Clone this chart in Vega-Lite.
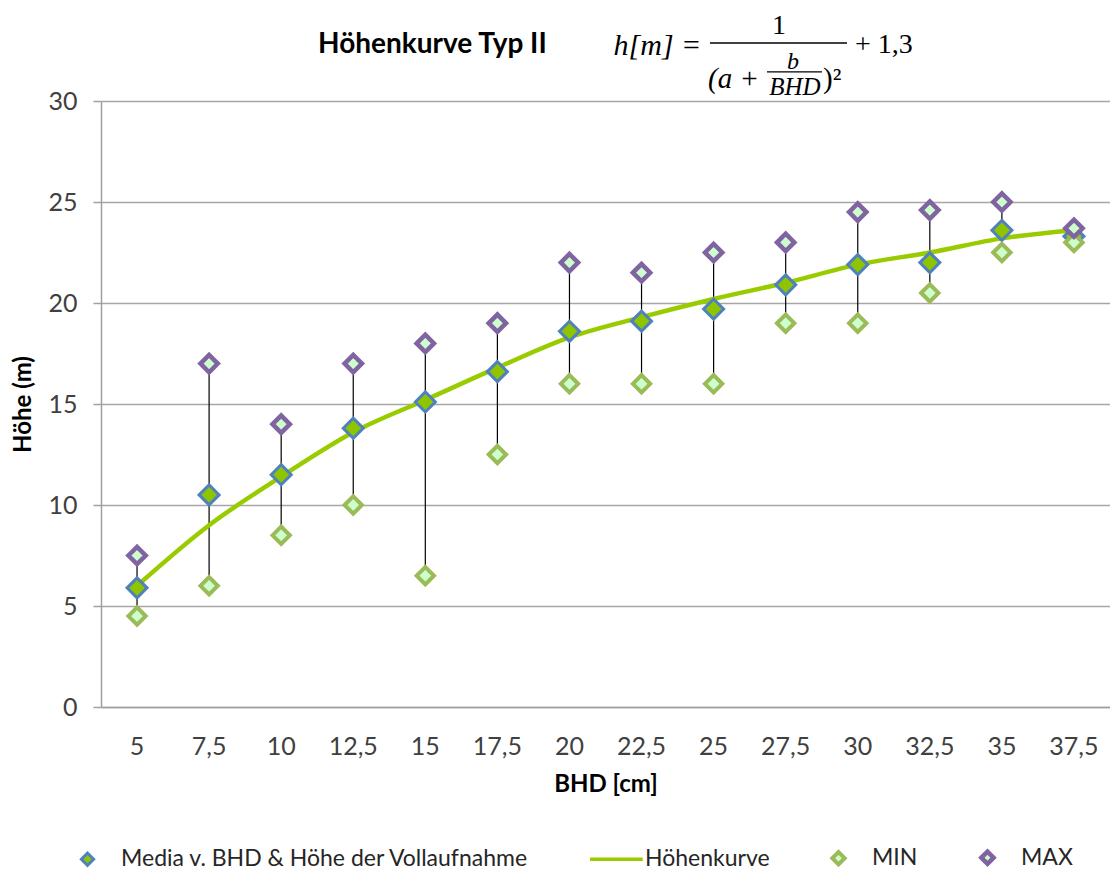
{
  "$schema": "https://vega.github.io/schema/vega-lite/v6.json",
  "autosize": {"type": "none"},
  "padding": {"left": 101, "top": 101, "right": 0, "bottom": 166},
  "width": 1009,
  "height": 606,
  "background": "white",
  "config": {
    "view": {"stroke": null},
    "font": "Lato",
    "axis": {
      "labelFont": "Lato",
      "labelFontSize": 25,
      "labelColor": "#404040",
      "titleFont": "Lato",
      "titleFontSize": 24,
      "titleFontWeight": "bold",
      "titleColor": "#000000",
      "domainColor": "#a0a0a0",
      "domainWidth": 1.5,
      "tickColor": "#a0a0a0",
      "tickWidth": 1.5,
      "gridColor": "#a6a6a6",
      "gridWidth": 1.5
    },
    "legend": {
      "labelFont": "Lato",
      "labelFontSize": 23,
      "labelColor": "#262626",
      "padding": 0
    }
  },
  "title": {
    "text": "Höhenkurve Typ II",
    "font": "Lato",
    "fontSize": 28,
    "fontWeight": "bold",
    "color": "#000000",
    "anchor": "start",
    "frame": "group",
    "dx": 217,
    "offset": 0,
    "dy": 47
  },
  "datasets": {
    "bhd": [
      {"bhd": "5", "median": 5.9, "min": 4.5, "max": 7.5, "kurve": 6.0},
      {"bhd": "7,5", "median": 10.5, "min": 6.0, "max": 17.0, "kurve": 9.0},
      {"bhd": "10", "median": 11.5, "min": 8.5, "max": 14.0, "kurve": 11.4},
      {"bhd": "12,5", "median": 13.8, "min": 10.0, "max": 17.0, "kurve": 13.6},
      {"bhd": "15", "median": 15.1, "min": 6.5, "max": 18.0, "kurve": 15.2},
      {"bhd": "17,5", "median": 16.6, "min": 12.5, "max": 19.0, "kurve": 16.8},
      {"bhd": "20", "median": 18.6, "min": 16.0, "max": 22.0, "kurve": 18.3},
      {"bhd": "22,5", "median": 19.1, "min": 16.0, "max": 21.5, "kurve": 19.3},
      {"bhd": "25", "median": 19.7, "min": 16.0, "max": 22.5, "kurve": 20.2},
      {"bhd": "27,5", "median": 20.9, "min": 19.0, "max": 23.0, "kurve": 21.0},
      {"bhd": "30", "median": 21.9, "min": 19.0, "max": 24.5, "kurve": 21.9},
      {"bhd": "32,5", "median": 22.0, "min": 20.5, "max": 24.6, "kurve": 22.5},
      {"bhd": "35", "median": 23.6, "min": 22.5, "max": 25.0, "kurve": 23.2},
      {"bhd": "37,5", "median": 23.3, "min": 23.0, "max": 23.7, "kurve": 23.6}
    ]
  },
  "data": {"name": "bhd"},
  "encoding": {
    "x": {
      "field": "bhd",
      "type": "ordinal",
      "sort": ["5", "7,5", "10", "12,5", "15", "17,5", "20", "22,5", "25", "27,5", "30", "32,5", "35", "37,5"],
      "scale": {"type": "band", "paddingInner": 0, "paddingOuter": 0},
      "axis": {
        "title": "BHD [cm]",
        "labelAngle": 0,
        "ticks": false,
        "tickSize": 0,
        "labelPadding": 27,
        "titlePadding": 13
      }
    }
  },
  "layer": [
    {
      "mark": {"type": "rule", "color": "#000000", "strokeWidth": 1.2},
      "encoding": {
        "y": {
          "field": "min",
          "type": "quantitative",
          "scale": {"domain": [0, 30], "nice": false},
          "axis": {
            "title": "Höhe (m)",
            "values": [0, 5, 10, 15, 20, 25, 30],
            "tickSize": 8,
            "labelPadding": 16,
            "titlePadding": 12
          }
        },
        "y2": {"field": "max"}
      }
    },
    {
      "mark": {"type": "line", "color": "#99cc00", "strokeWidth": 4.5, "interpolate": "monotone"},
      "encoding": {
        "y": {"field": "kurve", "type": "quantitative"}
      }
    },
    {
      "transform": [
        {"fold": ["median", "min", "max"], "as": ["serie", "h"]},
        {"filter": "datum.serie === 'median'"}
      ],
      "mark": {"type": "point", "filled": true, "size": 400, "opacity": 1},
      "encoding": {
        "y": {"field": "h", "type": "quantitative"},
        "shape": {"field": "serie", "type": "nominal", "scale": {"domain": ["median", "kurve", "min", "max"], "range": ["diamond", "M-3.5,0H5.1", "diamond", "diamond"]}},
        "fill": {"field": "serie", "type": "nominal", "scale": {"domain": ["median", "kurve", "min", "max"], "range": ["#8fc400", "transparent", "#ccffcc", "#ccffcc"]}},
        "stroke": {"field": "serie", "type": "nominal", "scale": {"domain": ["median", "kurve", "min", "max"], "range": ["#4f81bd", "#99cc00", "#9bbb59", "#8064a2"]}},
        "strokeWidth": {"field": "serie", "type": "ordinal", "scale": {"domain": ["median", "kurve", "min", "max"], "range": [3, 4.5, 2.5, 2.5]}}
      }
    },
    {
      "transform": [
        {"fold": ["median", "min", "max"], "as": ["serie", "h"]},
        {"filter": "datum.serie !== 'median'"}
      ],
      "mark": {"type": "point", "filled": true, "size": 300, "opacity": 1},
      "encoding": {
        "y": {"field": "h", "type": "quantitative"},
        "shape": {"field": "serie", "type": "nominal", "scale": {"domain": ["median", "kurve", "min", "max"], "range": ["diamond", "M-3.5,0H5.1", "diamond", "diamond"]},
          "legend": {
            "orient": "none",
            "direction": "horizontal",
            "legendX": -25,
            "legendY": 745,
            "title": null,
            "symbolSize": 150,
            "labelOffset": 22,
            "labelLimit": 0,
            "columnPadding": 54,
            "labelExpr": "datum.value === 'median' ? 'Media v. BHD & Höhe der Vollaufnahme' : datum.value === 'kurve' ? 'Höhenkurve' : datum.value === 'min' ? 'MIN' : 'MAX'"
          }
        },
        "fill": {"field": "serie", "type": "nominal", "scale": {"domain": ["median", "kurve", "min", "max"], "range": ["#8fc400", "transparent", "#ccffcc", "#ccffcc"]}},
        "stroke": {"field": "serie", "type": "nominal", "scale": {"domain": ["median", "kurve", "min", "max"], "range": ["#4f81bd", "#99cc00", "#9bbb59", "#8064a2"]}},
        "strokeWidth": {"field": "serie", "type": "ordinal", "scale": {"domain": ["median", "kurve", "min", "max"], "range": [3, 4.5, 2.5, 2.5]}}
      }
    },
    {
      "data": {"values": [{}]},
      "mark": {"type": "text", "text": "h[m] =", "font": "Liberation Serif", "fontStyle": "italic", "fontSize": 30, "align": "left", "baseline": "middle", "dx": -28, "color": "#000000"},
      "encoding": {"x": {"datum": "22,5"}, "y": {"datum": 32.72}}
    },
    {
      "data": {"values": [{}]},
      "mark": {"type": "text", "text": "1", "font": "Liberation Serif", "fontSize": 28, "align": "center", "baseline": "middle", "dx": -6.7, "color": "#000000"},
      "encoding": {"x": {"datum": "27,5"}, "y": {"datum": 33.71}}
    },
    {
      "data": {"values": [{}]},
      "mark": {"type": "text", "text": "+ 1,3", "font": "Liberation Serif", "fontSize": 28, "align": "left", "baseline": "middle", "dx": -2.7, "color": "#000000"},
      "encoding": {"x": {"datum": "30"}, "y": {"datum": 32.77}}
    },
    {
      "data": {"values": [{}]},
      "mark": {"type": "text", "text": "(a +", "font": "Liberation Serif", "fontStyle": "italic", "fontSize": 29, "align": "left", "baseline": "middle", "dx": -5.6, "color": "#000000"},
      "encoding": {"x": {"datum": "25"}, "y": {"datum": 31.09}}
    },
    {
      "data": {"values": [{}]},
      "mark": {"type": "text", "text": "b", "font": "Liberation Serif", "fontStyle": "italic", "fontSize": 24, "align": "center", "baseline": "middle", "dx": 7.3, "color": "#000000"},
      "encoding": {"x": {"datum": "27,5"}, "y": {"datum": 31.93}}
    },
    {
      "data": {"values": [{}]},
      "mark": {"type": "text", "text": "BHD", "font": "Liberation Serif", "fontStyle": "italic", "fontSize": 25, "align": "center", "baseline": "middle", "dx": 9.3, "color": "#000000"},
      "encoding": {"x": {"datum": "27,5"}, "y": {"datum": 30.69}}
    },
    {
      "data": {"values": [{}]},
      "mark": {"type": "text", "text": ")²", "font": "Liberation Serif", "fontSize": 29, "align": "left", "baseline": "middle", "dx": -34.7, "color": "#000000"},
      "encoding": {"x": {"datum": "30"}, "y": {"datum": 31.09}}
    },
    {
      "data": {"values": [{}]},
      "mark": {"type": "rule", "color": "#000000", "strokeWidth": 1.6, "xOffset": -3.6, "x2Offset": -10.7},
      "encoding": {"x": {"datum": "25"}, "x2": {"datum": "30"}, "y": {"datum": 32.87}}
    },
    {
      "data": {"values": [{}]},
      "mark": {"type": "rule", "color": "#000000", "strokeWidth": 1.3, "xOffset": -18.7, "x2Offset": 36.3},
      "encoding": {"x": {"datum": "27,5"}, "x2": {"datum": "27,5"}, "y": {"datum": 31.44}}
    }
  ]
}
